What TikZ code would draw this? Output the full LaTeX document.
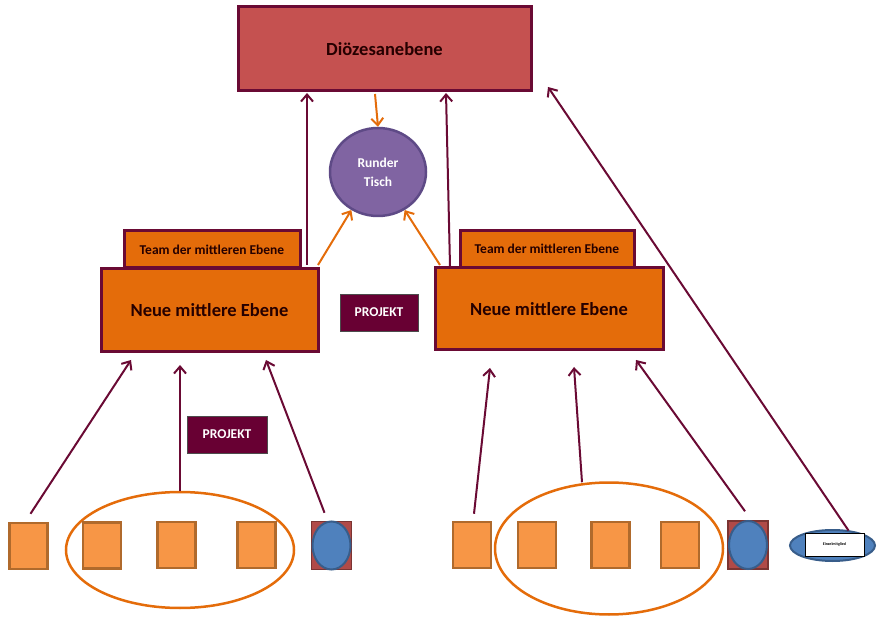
\documentclass[tikz,border=0pt]{standalone}
\usepackage{fontspec}
\setmainfont{Carlito}
\usetikzlibrary{calc,arrows.meta,shapes.geometric}
\definecolor{maroon}{HTML}{6A0A34}
\definecolor{dioz}{HTML}{C55150}
\definecolor{orng}{HTML}{E46C0A}
\definecolor{sq}{HTML}{F79646}
\definecolor{sqb}{HTML}{B06A2C}
\definecolor{purp}{HTML}{8064A2}
\definecolor{purpb}{HTML}{5E4A86}
\definecolor{projf}{HTML}{680033}
\definecolor{blu}{HTML}{4F81BD}
\definecolor{blub}{HTML}{385D8A}
\definecolor{redsq}{HTML}{B04A48}
\tikzset{
  x=1pt,y=-1pt,
  box/.style={draw=maroon,line width=3pt,inner sep=0pt,outer sep=0pt,font=\bfseries,text=black!85!red},
  dzbox/.style={box,fill=dioz,minimum width=293pt,minimum height=84pt,font=\bfseries\fontsize{18.5}{20}\selectfont},
  neue/.style={box,fill=orng,minimum width=217pt,minimum height=83pt,font=\bfseries\fontsize{18.5}{20}\selectfont},
  team/.style={box,fill=orng,minimum width=176pt,minimum height=37pt,font=\bfseries\fontsize{13.5}{15}\selectfont},
  proj/.style={draw=black!70,line width=0.6pt,fill=projf,text=white,minimum width=78pt,minimum height=37pt,inner sep=0pt,font=\bfseries\fontsize{13.5}{15}\selectfont},
  small/.style={draw=sqb,line width=2.5pt,fill=sq,minimum width=38pt,minimum height=46pt,inner sep=0pt},
  bsq/.style={draw=redsq!70!black,line width=1.5pt,fill=redsq,minimum width=40pt,minimum height=48pt,inner sep=0pt},
  bell/.style={ellipse,draw=blub,line width=2pt,fill=blu,minimum width=38pt,minimum height=48pt,inner sep=0pt},
  grp/.style={ellipse,draw=orng,line width=2.5pt,inner sep=0pt},
  marr/.style={draw=maroon,line width=2pt,-{Straight Barb[length=7pt,width=12pt,line width=2pt]}},
  oarr/.style={draw=orng,line width=2pt,-{Straight Barb[length=7pt,width=12pt,line width=2pt]}},
}
\begin{document}
\begin{tikzpicture}
\useasboundingbox (0,0) rectangle (878,617);
% top
\node[dzbox] (dz) at (384.5,49) {Diözesanebene};
\node[ellipse,draw=purpb,line width=2.5pt,fill=purp,minimum width=96pt,minimum height=88pt,inner sep=0pt,text=white,align=center,font=\bfseries\fontsize{13.5}{19}\selectfont] (rt) at (378,172) {Runder\\Tisch};
% middle left
\node[team] (tl) at (212,249.5) {Team der mittleren Ebene};
\node[neue] (nl) at (209.5,310.5) {Neue mittlere Ebene};
% middle right
\node[team,minimum width=174pt] (tr) at (547,249) {Team der mittleren Ebene};
\node[neue,minimum width=228pt,minimum height=82pt] (nr) at (549,309) {Neue mittlere Ebene};
% projects
\node[proj] (p1) at (379,312.5) {PROJEKT};
\node[proj,minimum width=80pt] (p2) at (227,434.5) {PROJEKT};
% bottom left
\node[grp,minimum width=228pt,minimum height=116pt] (gl) at (180,550) {};
\node[small] (a1) at (28.5,546) {};
\node[small] (a2) at (102,545.5) {};
\node[small] (a3) at (176.5,545) {};
\node[small] (a4) at (256.5,545) {};
\node[bsq] (a5) at (331.5,545.5) {};
\node[bell] (a5e) at (331.5,545.5) {};
% bottom right
\node[grp,minimum width=228pt,minimum height=132pt] (gr) at (609,548.5) {};
\node[small] (b1) at (472,545) {};
\node[small] (b2) at (537,545) {};
\node[small] (b3) at (610.5,545) {};
\node[small] (b4) at (680,545) {};
\node[bsq] (b5) at (748,545) {};
\node[bell] (b5e) at (748,545) {};
\node[ellipse,draw=blub,line width=2pt,fill=blu,minimum width=85pt,minimum height=31pt,inner sep=0pt] (ez) at (832.5,545.5) {};
\node[draw=black,line width=1pt,fill=white,minimum width=59pt,minimum height=23pt,inner sep=0pt,font=\bfseries\fontsize{4}{5}\selectfont] (ezr) at (834.5,544.5) {Einzelmitglied};
% orange arrows
\draw[oarr] ($(dz.south)+(-9.5,3)$) -- (rt.north);
\draw[oarr] ($(nl.north east)+(0,-4)$) -- (rt.-125);
\draw[oarr] ($(nr.north west)+(5,-3)$) -- (rt.-55);
% maroon arrows up to Diözesanebene
\draw[marr] ($(nl.north east)+(-11,-4)$) -- ($(dz.south west)+(69,2)$);
\draw[marr] ($(nr.north west)+(15,-2)$) -- ($(dz.south west)+(208,2)$);
\draw[marr] ($(ezr.north)+(14,-2)$) -- ($(dz.south east)+(17,-4)$);
% bottom left arrows
\draw[marr] ($(a1.north)+(2,-8)$) -- ($(nl.south west)+(30,8)$);
\draw[marr] (gl.north) -- ($(nl.south west)+(79,13)$);
\draw[marr] ($(a5.north)+(-7,-8)$) -- ($(nl.south west)+(165,8)$);
% bottom right arrows
\draw[marr] ($(b1.north)+(2,-7)$) -- ($(nr.south west)+(55,18)$);
\draw[marr] ($(gr.north)+(-27,1)$) -- ($(nr.south west)+(139,17)$);
\draw[marr] ($(b5.north)+(-3,-9)$) -- ($(nr.south west)+(201,10)$);
\end{tikzpicture}
\end{document}
